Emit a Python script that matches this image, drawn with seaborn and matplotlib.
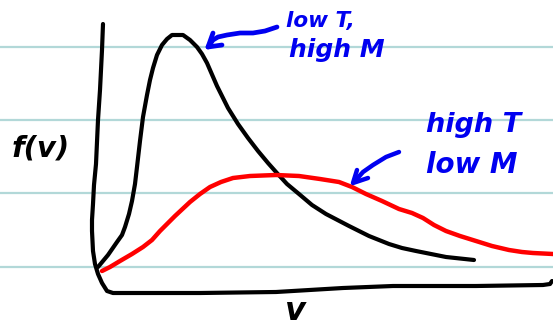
import matplotlib
matplotlib.use("Agg")
import matplotlib.pyplot as plt
import seaborn as sns

# everything, y counted from the top of the picture
grid_y = [47, 120, 193, 267]

axis_x = [103, 102, 101, 100, 98, 96, 94, 93, 92, 92, 93, 95, 98, 102, 107, 113, 200, 276, 343, 393, 476, 543, 550, 552]
axis_y = [24, 50, 70, 90, 120, 164, 185, 204, 220, 231, 251, 264, 274, 283, 291, 293, 293, 292, 288, 286, 286, 285, 284, 281]

low_t_x = [98, 108, 117, 122, 125, 129, 132, 135, 137, 140, 143, 147, 150, 153, 157, 162, 167, 172, 183, 190, 197, 202, 207, 217, 228, 238, 248, 258, 268, 276, 287, 299, 312, 326, 349, 369, 389, 402, 416, 431, 446, 474]
low_t_y = [267, 255, 242, 235, 227, 214, 201, 184, 167, 141, 117, 95, 80, 68, 55, 45, 39, 35, 35, 40, 47, 54, 63, 86, 108, 124, 138, 151, 163, 172, 184, 194, 205, 214, 226, 236, 244, 248, 251, 254, 257, 260]

high_t_x = [102, 110, 120, 132, 143, 152, 160, 175, 190, 200, 210, 221, 233, 250, 276, 299, 320, 339, 352, 366, 382, 399, 412, 423, 434, 446, 460, 476, 492, 509, 522, 533, 553]
high_t_y = [271, 267, 261, 254, 247, 240, 231, 216, 202, 194, 187, 182, 178, 176, 175, 176, 179, 182, 187, 194, 201, 209, 213, 218, 225, 231, 236, 241, 246, 250, 252, 253, 254]

arrow1_x = [277, 265, 253, 240, 227, 218, 213, 208]
arrow1_y = [27, 31, 33, 33, 35, 37, 40, 47]
arrow1_head_x = [213, 208, 222]
arrow1_head_y = [33, 47, 45]

arrow2_x = [399, 386, 373, 363, 355]
arrow2_y = [152, 157, 165, 172, 181]
arrow2_head_x = [357, 353, 368]
arrow2_head_y = [170, 183, 178]

BLUE = "#0000f0"

sns.set_theme(style="white")
fig, ax = plt.subplots(figsize=(5.53, 3.28), dpi=100)
fig.subplots_adjust(left=0, right=1, top=1, bottom=0)

for y in grid_y:
    ax.axhline(y, color="#b2d8d8", lw=1.6, zorder=0)


def stroke(x, y, color, lw):
    sns.lineplot(x=x, y=y, sort=False, estimator=None, color=color, lw=lw, ax=ax,
                 solid_capstyle="round", solid_joinstyle="round")


stroke(axis_x, axis_y, "black", 3)
stroke(low_t_x, low_t_y, "black", 3)
stroke(high_t_x, high_t_y, "#ff0000", 3.2)
stroke(arrow1_x, arrow1_y, BLUE, 3.4)
stroke(arrow1_head_x, arrow1_head_y, BLUE, 3.4)
stroke(arrow2_x, arrow2_y, BLUE, 3.2)
stroke(arrow2_head_x, arrow2_head_y, BLUE, 3.2)

hand = dict(family="DejaVu Sans", style="italic", weight="bold", ha="left", va="center")
ax.text(286, 21, "low T,", color=BLUE, fontsize=15.5, **hand)
ax.text(289, 50, "high M", color=BLUE, fontsize=18, **hand)
ax.text(426, 125, "high T", color=BLUE, fontsize=19.5, **hand)
ax.text(426, 165, "low M", color=BLUE, fontsize=20, **hand)
ax.text(12, 149, "f(v)", color="black", fontsize=21, **hand)
ax.text(285, 311, "v", color="black", fontsize=23, **hand)

ax.set_xlim(0, 553)
ax.set_ylim(328, 0)
ax.axis("off")

fig.savefig("out.png", dpi=100, facecolor="white")
